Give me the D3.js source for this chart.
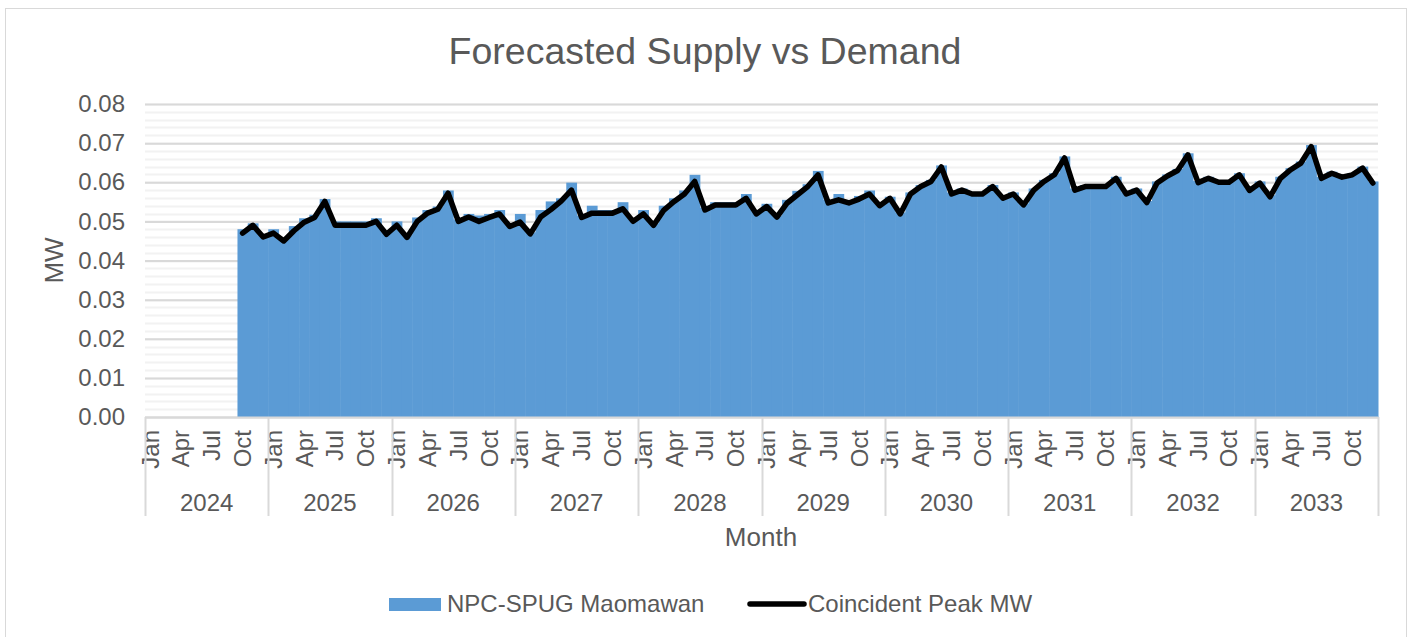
<!DOCTYPE html>
<html>
<head>
<meta charset="utf-8">
<script src="https://cdn.jsdelivr.net/npm/d3@7"></script>
<style>
  body { margin: 0; background: #fff; }
  text { font-family: "Liberation Sans", Arial, sans-serif; fill: #595959; }
</style>
</head>
<body>
<div id="chart"></div>
<script>
// chart values
var years = [2024, 2025, 2026, 2027, 2028, 2029, 2030, 2031, 2032, 2033];
var monthNames = ["Jan","Feb","Mar","Apr","May","Jun","Jul","Aug","Sep","Oct","Nov","Dec"];
var monthTicks = ["Jan","Apr","Jul","Oct"];
var yTicks = [0, 0.01, 0.02, 0.03, 0.04, 0.05, 0.06, 0.07, 0.08];

// NPC-SPUG Maomawan (supply), Jan 2024 .. Dec 2033
var supply = [
  null, null, null, null, null, null, null, null, null, 0.048, 0.0495, 0.0465,
  0.048, 0.0455, 0.0488, 0.0508, 0.0517, 0.0557, 0.050, 0.050, 0.050, 0.050, 0.0508, 0.0472,
  0.050, 0.0465, 0.051, 0.0529, 0.0538, 0.0579, 0.0505, 0.0519, 0.0515, 0.0519, 0.0529, 0.0492,
  0.0519, 0.0472, 0.0529, 0.0551, 0.0559, 0.0599, 0.0515, 0.054, 0.0529, 0.0529, 0.0549, 0.0505,
  0.0529, 0.0495, 0.054, 0.0559, 0.0579, 0.0619, 0.0535, 0.0549, 0.0549, 0.0549, 0.057, 0.0525,
  0.0545, 0.0515, 0.0555, 0.0578, 0.0595, 0.0629, 0.0555, 0.057, 0.0552, 0.0565, 0.0579, 0.0545,
  0.0563, 0.0523, 0.0574, 0.0593, 0.0606, 0.0643, 0.0574, 0.0584, 0.0574, 0.0574, 0.0593, 0.0563,
  0.0574, 0.0546, 0.0584, 0.0606, 0.0623, 0.0666, 0.0584, 0.0593, 0.0593, 0.0593, 0.0614, 0.0574,
  0.0584, 0.0552, 0.0602, 0.062, 0.0634, 0.0674, 0.0603, 0.0614, 0.0604, 0.0604, 0.0623, 0.0583,
  0.0602, 0.0567, 0.0614, 0.0636, 0.0653, 0.0695, 0.0614, 0.0627, 0.0617, 0.0623, 0.064, 0.0602
];

// Coincident Peak MW (demand), Jan 2024 .. Dec 2033
var demand = [
  null, null, null, null, null, null, null, null, null, 0.047, 0.049, 0.046,
  0.047, 0.045, 0.0476, 0.0498, 0.051, 0.0551, 0.049, 0.049, 0.049, 0.049, 0.050, 0.0467,
  0.049, 0.0459, 0.050, 0.0521, 0.0531, 0.0572, 0.050, 0.0511, 0.050, 0.051, 0.0519, 0.0487,
  0.0498, 0.0468, 0.0511, 0.053, 0.0552, 0.058, 0.051, 0.0521, 0.0521, 0.0521, 0.0532, 0.050,
  0.0519, 0.049, 0.0529, 0.0551, 0.057, 0.0602, 0.0529, 0.0542, 0.0542, 0.0542, 0.0559, 0.0519,
  0.0538, 0.0511, 0.0547, 0.0568, 0.0589, 0.0619, 0.0547, 0.0555, 0.0547, 0.0557, 0.057, 0.054,
  0.0559, 0.0519, 0.057, 0.0589, 0.0602, 0.0639, 0.057, 0.058, 0.057, 0.057, 0.0589, 0.0559,
  0.057, 0.0542, 0.058, 0.0602, 0.0619, 0.0662, 0.058, 0.0589, 0.0589, 0.0589, 0.061, 0.057,
  0.058, 0.0548, 0.0598, 0.0616, 0.063, 0.067, 0.0599, 0.061, 0.060, 0.060, 0.0619, 0.0579,
  0.0598, 0.0563, 0.061, 0.0632, 0.0649, 0.0691, 0.061, 0.0623, 0.0613, 0.0619, 0.0636, 0.0598
];

var W = 1413, H = 637;
var margin = {top: 104, right: 35, bottom: 220, left: 145};
var width = W - margin.left - margin.right;
var height = H - margin.top - margin.bottom;

// one row per month
var rows = [];
years.forEach(function(y, yi) {
  monthNames.forEach(function(m, mi) {
    var i = yi * 12 + mi;
    rows.push({key: y + "-" + m, year: y, month: m, supply: supply[i], demand: demand[i]});
  });
});

var svg = d3.select("#chart").append("svg").attr("width", W).attr("height", H);

// chart border
svg.append("rect").attr("x", 5.5).attr("y", 8.5).attr("width", 1401).attr("height", 640)
  .attr("fill", "none").attr("stroke", "#d9d9d9").attr("stroke-width", 1);

var g = svg.append("g").attr("transform", "translate(" + margin.left + "," + margin.top + ")");

var x = d3.scaleBand().domain(rows.map(function(d) { return d.key; })).range([0, width]).padding(0);
var y = d3.scaleLinear().domain([0, 0.08]).range([height, 0]);

// minor gridlines
g.append("g").selectAll("line").data(d3.range(0, 0.0801, 0.002)).enter().append("line")
  .attr("x1", 0).attr("x2", width)
  .attr("y1", function(d) { return Math.round(y(d)) + 0.5; })
  .attr("y2", function(d) { return Math.round(y(d)) + 0.5; })
  .attr("stroke", "#f2f2f2").attr("stroke-width", 2);

// major gridlines + y labels
var yAxis = g.append("g").call(d3.axisLeft(y).tickValues(yTicks).tickFormat(d3.format(".2f")).tickSize(-width).tickPadding(20));
yAxis.select(".domain").remove();
yAxis.selectAll(".tick line").attr("stroke", "#d9d9d9").attr("stroke-width", 2);
yAxis.selectAll(".tick text").style("font-size", "24px").attr("fill", "#595959");

// supply as joined columns
g.append("g").selectAll("rect").data(rows.filter(function(d) { return d.supply != null; })).enter().append("rect")
  .attr("x", function(d) { return x(d.key); })
  .attr("width", x.bandwidth() + 0.5)
  .attr("y", function(d) { return y(d.supply); })
  .attr("height", function(d) { return height - y(d.supply); })
  .attr("fill", "#5b9bd5");

// demand line
var line = d3.line()
  .defined(function(d) { return d.demand != null; })
  .x(function(d) { return x(d.key) + x.bandwidth() / 2; })
  .y(function(d) { return y(d.demand); });
g.append("path").datum(rows).attr("d", line)
  .attr("fill", "none").attr("stroke", "#000").attr("stroke-width", 5.5)
  .attr("stroke-linejoin", "round").attr("stroke-linecap", "round");

// x axis: baseline, month labels, year groups
g.append("line").attr("x1", 0).attr("x2", width).attr("y1", height + 0.5).attr("y2", height + 0.5)
  .attr("stroke", "#d9d9d9").attr("stroke-width", 2);

var monthKeys = rows.filter(function(d) { return monthTicks.indexOf(d.month) >= 0; }).map(function(d) { return d.key; });
var xAxis = g.append("g").attr("transform", "translate(0," + height + ")")
  .call(d3.axisBottom(x).tickValues(monthKeys).tickFormat(function(k) { return k.split("-")[1]; }).tickSize(0));
xAxis.select(".domain").remove();
xAxis.selectAll(".tick text")
  .style("font-size", "24px").attr("fill", "#595959")
  .attr("transform", "rotate(-90)")
  .attr("text-anchor", "end")
  .attr("x", -13).attr("y", 0).attr("dy", "0.35em");

var yearX = function(yr) { return x(yr + "-Jan"); };
var seps = years.map(yearX).concat([width]);
g.append("g").selectAll("line").data(seps).enter().append("line")
  .attr("x1", function(d) { return Math.round(d) + 0.5; })
  .attr("x2", function(d) { return Math.round(d) + 0.5; })
  .attr("y1", height).attr("y2", height + 99)
  .attr("stroke", "#d9d9d9").attr("stroke-width", 2);

g.append("g").selectAll("text").data(years).enter().append("text")
  .attr("x", function(d) { return yearX(d) + x.bandwidth() * 6; })
  .attr("y", height + 94)
  .attr("text-anchor", "middle")
  .style("font-size", "24px")
  .text(function(d) { return d; });

// titles
svg.append("text").attr("x", 705).attr("y", 64).attr("text-anchor", "middle")
  .style("font-size", "37.5px").text("Forecasted Supply vs Demand");
svg.append("text").attr("x", 761).attr("y", 546).attr("text-anchor", "middle")
  .style("font-size", "26px").text("Month");
svg.append("text").attr("transform", "translate(63," + (margin.top + height / 2) + ") rotate(-90)")
  .attr("text-anchor", "middle").style("font-size", "26px").text("MW");

// legend
var legend = svg.append("g").attr("transform", "translate(0,604)");
legend.append("rect").attr("x", 389).attr("y", -6).attr("width", 52).attr("height", 13).attr("fill", "#5b9bd5");
legend.append("text").attr("x", 447).attr("y", 0).attr("dy", "0.35em").style("font-size", "24px").text("NPC-SPUG Maomawan");
legend.append("line").attr("x1", 750).attr("x2", 804).attr("y1", 0).attr("y2", 0)
  .attr("stroke", "#000").attr("stroke-width", 5.5).attr("stroke-linecap", "round");
legend.append("text").attr("x", 808).attr("y", 0).attr("dy", "0.35em").style("font-size", "24px").text("Coincident Peak MW");
</script>
</body>
</html>
